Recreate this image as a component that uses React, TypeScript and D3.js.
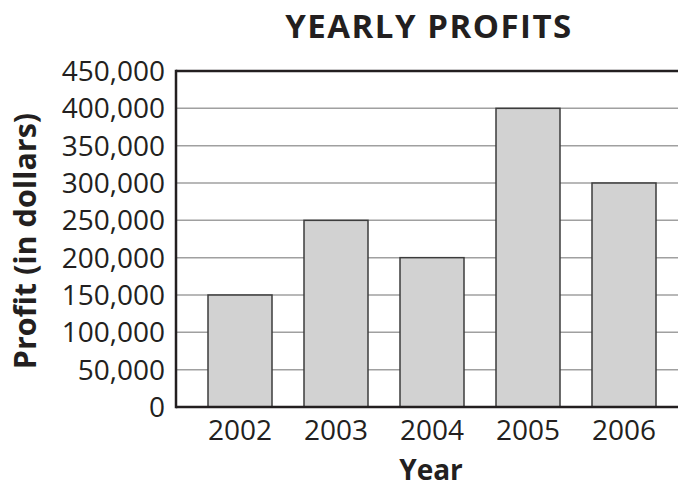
import { useEffect, useRef } from "react";
import * as d3 from "d3";

const WIDTH = 678;
const HEIGHT = 487;
const MARGIN = { top: 71, right: -10, bottom: 80, left: 176 };

const years = ["2002", "2003", "2004", "2005", "2006"];
const profits = [150000, 250000, 200000, 400000, 300000];
const yTicks = [0, 50000, 100000, 150000, 200000, 250000, 300000, 350000, 400000, 450000];

const FONT = "'Open Sans', 'DejaVu Sans', sans-serif";
const INK = "#231f20";

export default function App() {
  const svgRef = useRef<SVGSVGElement>(null);

  useEffect(() => {
    const svg = d3.select(svgRef.current);
    svg.selectAll("*").remove();

    const boundsWidth = WIDTH - MARGIN.left - MARGIN.right;
    const boundsHeight = HEIGHT - MARGIN.top - MARGIN.bottom;

    const xScale = d3
      .scaleBand()
      .domain(years)
      .range([0, boundsWidth])
      .paddingInner(1 / 3)
      .paddingOuter(1 / 3);

    const yScale = d3.scaleLinear().domain([0, 450000]).range([boundsHeight, 0]);

    const g = svg
      .append("g")
      .attr("transform", `translate(${MARGIN.left},${MARGIN.top})`);

    // gridlines
    g.append("g")
      .selectAll("line")
      .data(yTicks.slice(1, -1))
      .join("line")
      .attr("x1", 0)
      .attr("x2", WIDTH - MARGIN.left)
      .attr("y1", (d) => yScale(d))
      .attr("y2", (d) => yScale(d))
      .attr("stroke", "#a0a0a0")
      .attr("stroke-width", 1.5);

    // bars
    g.append("g")
      .selectAll("rect")
      .data(years.map((y, i) => ({ year: y, value: profits[i] })))
      .join("rect")
      .attr("x", (d) => xScale(d.year)!)
      .attr("y", (d) => yScale(d.value))
      .attr("width", xScale.bandwidth())
      .attr("height", (d) => yScale(0) - yScale(d.value))
      .attr("fill", "#d2d2d2")
      .attr("stroke", "#3c3c3c")
      .attr("stroke-width", 1.5);

    // frame: top, left, bottom
    const frame = g.append("g").attr("stroke", INK).attr("stroke-width", 2.5);
    frame
      .append("line")
      .attr("x1", 0)
      .attr("x2", WIDTH - MARGIN.left)
      .attr("y1", 0)
      .attr("y2", 0);
    frame
      .append("line")
      .attr("x1", 0)
      .attr("x2", WIDTH - MARGIN.left)
      .attr("y1", boundsHeight)
      .attr("y2", boundsHeight);
    frame
      .append("line")
      .attr("x1", 0)
      .attr("x2", 0)
      .attr("y1", -1.25)
      .attr("y2", boundsHeight + 1.25);

    // y tick labels
    g.append("g")
      .selectAll("text")
      .data(yTicks)
      .join("text")
      .attr("x", -11)
      .attr("y", (d) => yScale(d))
      .attr("dy", "0.36em")
      .attr("text-anchor", "end")
      .style("font-family", FONT)
      .style("font-size", "28px")
      .attr("fill", INK)
      .text((d) => d3.format(",")(d));

    // x tick labels
    g.append("g")
      .selectAll("text")
      .data(years)
      .join("text")
      .attr("x", (d) => xScale(d)! + xScale.bandwidth() / 2)
      .attr("y", boundsHeight + 33)
      .attr("text-anchor", "middle")
      .style("font-family", FONT)
      .style("font-size", "28px")
      .attr("fill", INK)
      .text((d) => d);

    // titles
    svg
      .append("text")
      .attr("x", 429)
      .attr("y", 38)
      .attr("text-anchor", "middle")
      .style("font-family", FONT)
      .style("font-size", "33px")
      .style("letter-spacing", "1.5px")
      .style("font-weight", "bold")
      .attr("fill", INK)
      .text("YEARLY PROFITS");

    svg
      .append("text")
      .attr("x", 431)
      .attr("y", 480)
      .attr("text-anchor", "middle")
      .style("font-family", FONT)
      .style("font-size", "28px")
      .style("font-weight", "bold")
      .attr("fill", INK)
      .text("Year");

    svg
      .append("text")
      .attr("transform", "translate(36,241) rotate(-90)")
      .attr("text-anchor", "middle")
      .style("font-family", FONT)
      .style("font-size", "30.5px")
      .style("font-weight", "bold")
      .attr("fill", INK)
      .text("Profit (in dollars)");
  }, []);

  return (
    <svg
      ref={svgRef}
      width={WIDTH}
      height={HEIGHT}
      style={{ position: "absolute", left: 0, top: 0, background: "white" }}
    />
  );
}
